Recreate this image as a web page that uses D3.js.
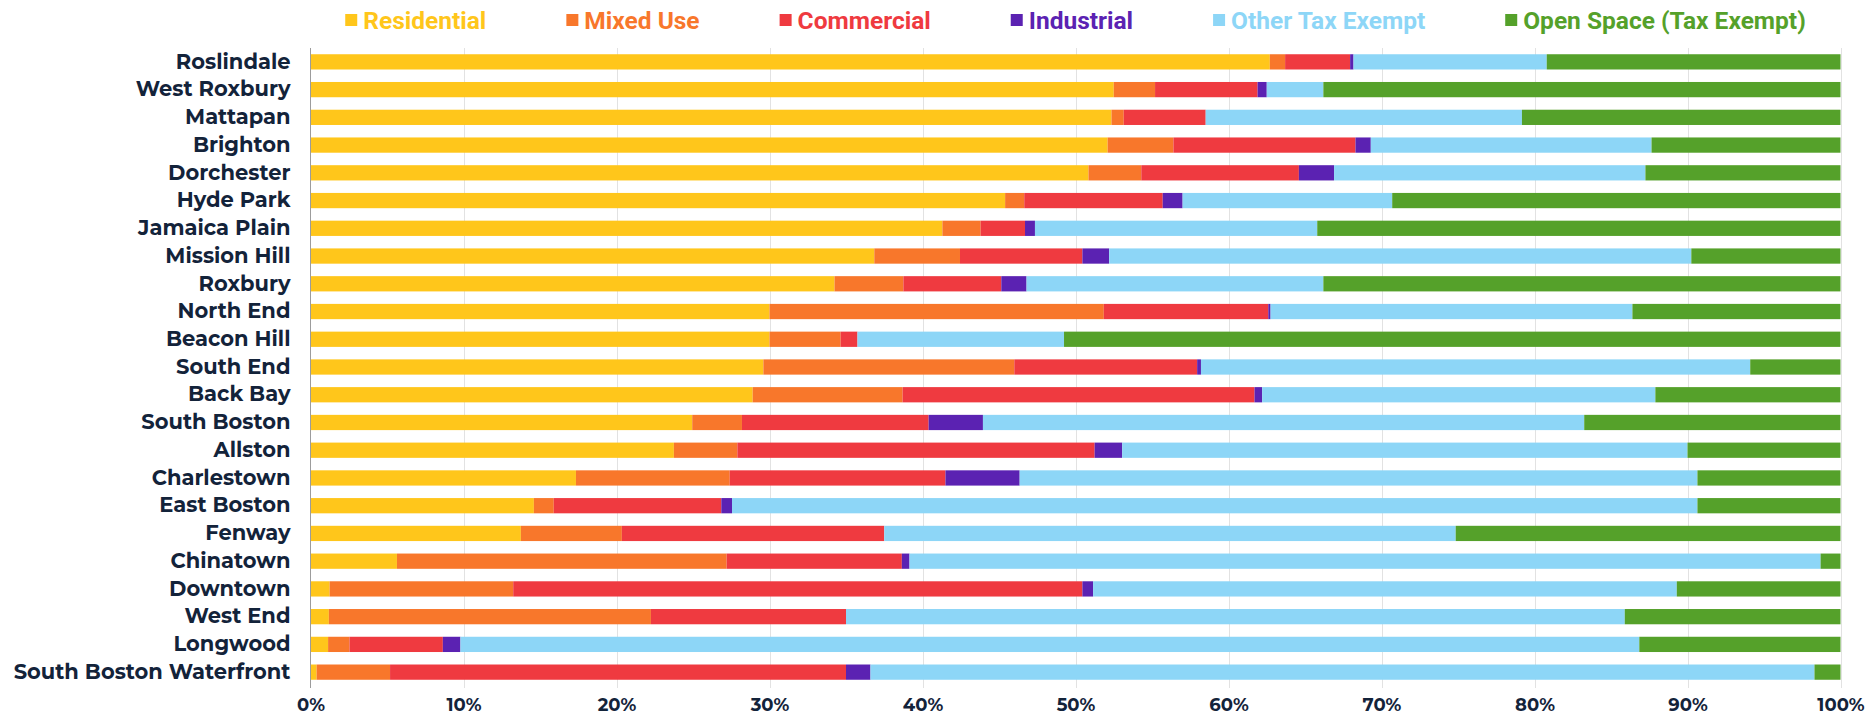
<!DOCTYPE html>
<html>
<head>
<meta charset="utf-8">
<script src="https://cdn.jsdelivr.net/npm/d3@7/dist/d3.min.js"></script>
<style>
  html, body { margin: 0; padding: 0; background: #ffffff; }
  #chart { width: 1866px; height: 716px; }
  .lbl text { font-family: Montserrat, Inter, "Noto Sans", sans-serif; font-weight: 700; fill: #13233a; }
  .legend text { font-family: "Liberation Sans Narrow", Roboto, sans-serif; font-weight: 700; }
</style>
</head>
<body>
<div id="chart"></div>
<script>
// land use share by neighborhood, top to bottom, in percent
var neighborhoods = ['Roslindale', 'West Roxbury', 'Mattapan', 'Brighton', 'Dorchester', 'Hyde Park',
  'Jamaica Plain', 'Mission Hill', 'Roxbury', 'North End', 'Beacon Hill', 'South End', 'Back Bay',
  'South Boston', 'Allston', 'Charlestown', 'East Boston', 'Fenway', 'Chinatown', 'Downtown',
  'West End', 'Longwood', 'South Boston Waterfront'];

var categories = ['Residential', 'Mixed Use', 'Commercial', 'Industrial', 'Other Tax Exempt', 'Open Space (Tax Exempt)'];

var residential = [62.7, 52.5, 52.3, 52.1, 50.85, 45.4, 41.3, 36.85, 34.25, 30.0, 30.0, 29.6, 28.9, 24.95, 23.75, 17.35, 14.6, 13.75, 5.65, 1.25, 1.2, 1.15, 0.4];
var mixedUse    = [1.0, 2.7, 0.8, 4.3, 3.45, 1.25, 2.5, 5.6, 4.5, 21.85, 4.65, 16.4, 9.8, 3.25, 4.15, 10.05, 1.3, 6.6, 21.55, 12.0, 21.05, 1.4, 4.8];
var commercial  = [4.25, 6.7, 5.35, 11.9, 10.3, 9.05, 2.9, 8.0, 6.4, 10.75, 1.1, 11.95, 23.0, 12.2, 23.35, 14.1, 10.95, 17.15, 11.45, 37.2, 12.75, 6.1, 29.8];
var industrial  = [0.22, 0.6, 0, 1.0, 2.3, 1.3, 0.65, 1.75, 1.65, 0.15, 0, 0.25, 0.5, 3.55, 1.8, 4.85, 0.7, 0, 0.5, 0.7, 0, 1.15, 1.6];
var otherExempt = [12.63, 3.7, 20.65, 18.35, 20.35, 13.7, 18.45, 38.05, 19.4, 23.65, 13.5, 35.9, 25.7, 39.3, 36.95, 44.3, 63.1, 37.35, 59.55, 38.15, 50.9, 77.05, 61.7];
var openSpace   = [19.2, 33.8, 20.8, 12.35, 12.75, 29.3, 34.2, 9.75, 33.8, 13.6, 50.75, 5.9, 12.1, 16.75, 10.0, 9.35, 9.35, 25.15, 1.3, 10.7, 14.1, 13.15, 1.7];

var tickValues = [0, 0.1, 0.2, 0.3, 0.4, 0.5, 0.6, 0.7, 0.8, 0.9, 1];
var tickLabels = ['0%', '10%', '20%', '30%', '40%', '50%', '60%', '70%', '80%', '90%', '100%'];

(function () {
  'use strict';
  var W = 1866, H = 716;
  var colors = ['#ffc61b', '#f8772b', '#ef3a40', '#5b22b2', '#8dd6f7', '#55a12a'];
  var series = [residential, mixedUse, commercial, industrial, otherExempt, openSpace];

  var rows = neighborhoods.map(function (n, i) {
    var r = { name: n };
    categories.forEach(function (c, j) { r[c] = series[j][i]; });
    return r;
  });

  var stacked = d3.stack().keys(categories).offset(d3.stackOffsetExpand)(rows);

  var svg = d3.select('#chart').append('svg')
    .attr('width', W).attr('height', H)
    .attr('viewBox', '0 0 ' + W + ' ' + H);

  var top = 48, bottom = 688;
  var x = d3.scaleLinear().domain([0, 1]).range([310.5, 1840.5]);
  var y = d3.scaleBand().domain(neighborhoods).range([top, 686])
    .paddingInner(0.45).paddingOuter(0.225);

  // gridlines
  svg.append('g').selectAll('line').data(tickValues.slice(1)).join('line')
    .attr('x1', function (d) { return Math.round(x(d)) + 0.5; })
    .attr('x2', function (d) { return Math.round(x(d)) + 0.5; })
    .attr('y1', top).attr('y2', bottom)
    .attr('stroke', '#e2e2e2').attr('stroke-width', 1);

  // stacked bars
  svg.append('g').selectAll('g').data(stacked).join('g')
    .attr('fill', function (d, i) { return colors[i]; })
    .selectAll('rect').data(function (d) { return d; }).join('rect')
    .attr('x', function (d) { return x(d[0]); })
    .attr('width', function (d) { return Math.max(0, x(d[1]) - x(d[0])); })
    .attr('y', function (d) { return y(d.data.name); })
    .attr('height', y.bandwidth());

  // zero line
  svg.append('line')
    .attr('x1', x(0)).attr('x2', x(0)).attr('y1', top).attr('y2', bottom)
    .attr('stroke', '#9c9c9c').attr('stroke-width', 1);

  // category labels
  var ya = svg.append('g').attr('class', 'lbl').attr('transform', 'translate(' + x(0) + ',0)')
    .call(d3.axisLeft(y).tickSize(0).tickPadding(20));
  ya.select('.domain').remove();
  ya.selectAll('text').style('font-size', '21px');

  // percent axis
  var xa = svg.append('g').attr('class', 'lbl').attr('transform', 'translate(0,' + bottom + ')')
    .call(d3.axisBottom(x).tickValues(tickValues).tickSize(0).tickPadding(10)
      .tickFormat(function (d, i) { return tickLabels[i]; }));
  xa.select('.domain').remove();
  xa.selectAll('text').style('font-size', '18px');

  // legend, centred over the plot
  var lg = svg.append('g').attr('class', 'legend');
  var items = lg.selectAll('g').data(categories).join('g');
  items.append('rect').attr('width', 12).attr('height', 12).attr('y', -6)
    .attr('fill', function (d, i) { return colors[i]; });
  items.append('text').attr('x', 18).attr('dy', '0.35em')
    .style('font-size', '24.5px')
    .attr('fill', function (d, i) { return colors[i]; })
    .text(function (d) { return d; });
  var gap = 80, cx = 0;
  items.each(function () {
    var g = d3.select(this);
    g.attr('transform', 'translate(' + cx + ',0)');
    cx += 18 + g.select('text').node().getComputedTextLength() + gap;
  });
  var total = cx - gap;
  lg.attr('transform', 'translate(' + ((x(0) + x(1)) / 2 - total / 2) + ',20)');
})();
</script>
</body>
</html>
